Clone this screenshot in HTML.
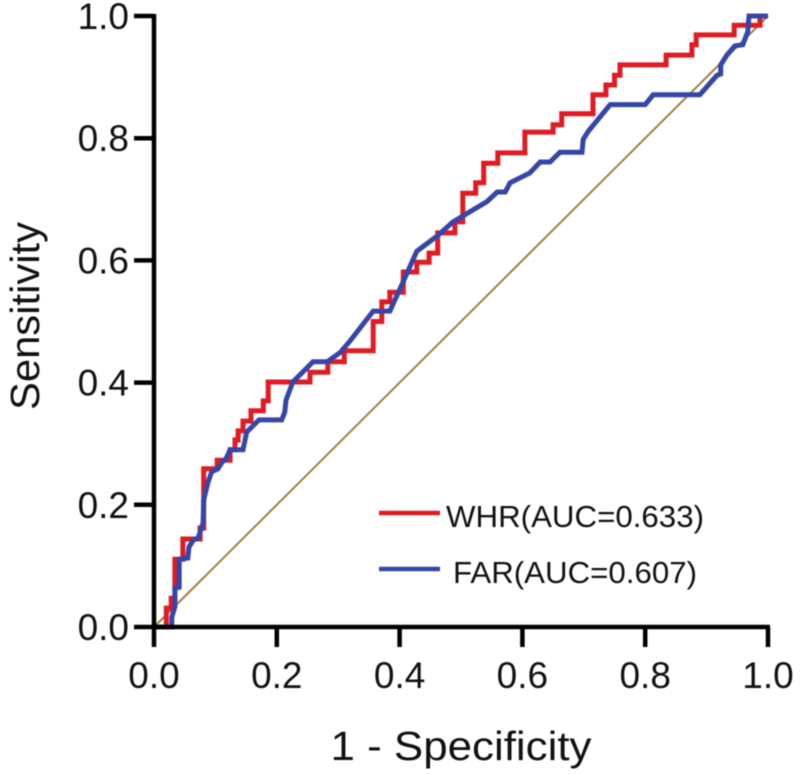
<!DOCTYPE html>
<html>
<head>
<meta charset="utf-8">
<title>ROC curves</title>
<style>
html,body{margin:0;padding:0;background:#fff;width:800px;height:774px;overflow:hidden}
svg{display:block;filter:blur(.45px)}
text{font-family:"Liberation Sans",Arial,sans-serif;fill:#111}
</style>
</head>
<body>
<svg id="chart" xmlns="http://www.w3.org/2000/svg" width="800" height="774" viewBox="0 0 800 774">
  <g id="curves"></g>
  <g id="axes"></g>
  <text x="461" y="760" font-size="41" text-anchor="middle" textLength="261" lengthAdjust="spacingAndGlyphs">1 - Specificity</text>
  <text transform="translate(39,316) rotate(-90)" font-size="41" text-anchor="middle" textLength="188" lengthAdjust="spacingAndGlyphs">Sensitivity</text>
  <g>
    <line x1="379" y1="513" x2="440" y2="513" stroke="#e01b24" stroke-width="4.5"/>
    <text x="446" y="527" font-size="31" textLength="258" lengthAdjust="spacingAndGlyphs">WHR(AUC=0.633)</text>
    <line x1="379" y1="569" x2="440" y2="569" stroke="#3546a8" stroke-width="4.5"/>
    <text x="453" y="583" font-size="31" textLength="244" lengthAdjust="spacingAndGlyphs">FAR(AUC=0.607)</text>
  </g>
</svg>
<script>
const tickValues = [0, 0.2, 0.4, 0.6, 0.8, 1.0];
const tickLabels = ["0.0", "0.2", "0.4", "0.6", "0.8", "1.0"];
const diagonalX = [0, 1];
const diagonalY = [0, 1];
const whrX = [0, .02, .02, .028, .028, .034, .034, .047, .047, .075, .075, .081, .081, .103, .103, .124, .124, .132, .132, .137, .137, .145, .145, .158, .158, .178, .178, .186, .186, .254, .254, .283, .283, .31, .31, .357, .357, .371, .371, .384, .384, .406, .406, .428, .428, .448, .448, .462, .462, .49, .49, .503, .503, .524, .524, .537, .537, .56, .56, .604, .604, .65, .65, .664, .664, .715, .715, .736, .736, .75, .75, .759, .759, .834, .834, .876, .876, .883, .883, .945, .945, .987, .987, 1];
const whrY = [0, 0, .031, .031, .047, .047, .111, .111, .144, .144, .162, .162, .259, .259, .273, .273, .29, .29, .306, .306, .321, .321, .337, .337, .354, .354, .37, .37, .401, .401, .417, .417, .434, .434, .452, .452, .5, .5, .532, .532, .548, .548, .581, .581, .597, .597, .612, .612, .645, .645, .663, .663, .71, .71, .727, .727, .759, .759, .776, .776, .81, .81, .822, .822, .84, .84, .871, .871, .887, .887, .903, .903, .92, .92, .936, .936, .953, .953, .969, .969, .985, .985, 1, 1];
const farX = [0, .029, .029, .034, .034, .041, .041, .055, .057, .064, .072, .08, .081, .088, .094, .104, .111, .117, .124, .145, .151, .171, .208, .213, .215, .226, .259, .282, .303, .319, .357, .384, .404, .428, .461, .487, .542, .559, .572, .58, .612, .629, .645, .661, .697, .699, .707, .743, .8, .813, .889, .917, .923, .923, .933, .946, .959, .967, .969, 1];
const farY = [0, 0, .016, .033, .064, .065, .111, .113, .131, .142, .146, .17, .208, .237, .254, .259, .27, .275, .29, .29, .319, .339, .339, .352, .371, .401, .434, .434, .449, .468, .517, .517, .561, .615, .64, .663, .696, .712, .712, .727, .743, .761, .761, .777, .777, .798, .811, .855, .855, .871, .871, .903, .905, .92, .936, .951, .953, .974, 1, 1];

const SVG_NS = "http://www.w3.org/2000/svg";
const xScale = v => 154 + v * 614;
const yScale = v => 627 - v * 611;

function makeLine(xs, ys, color, width) {
  const el = document.createElementNS(SVG_NS, "polyline");
  el.setAttribute("points", xs.map((x, i) => xScale(x).toFixed(1) + "," + yScale(ys[i]).toFixed(1)).join(" "));
  el.setAttribute("fill", "none");
  el.setAttribute("stroke", color);
  el.setAttribute("stroke-width", width);
  el.setAttribute("stroke-linejoin", "miter");
  el.setAttribute("stroke-linecap", "butt");
  return el;
}
function makeRule(x1, y1, x2, y2) {
  const el = document.createElementNS(SVG_NS, "line");
  el.setAttribute("x1", x1);
  el.setAttribute("y1", y1);
  el.setAttribute("x2", x2);
  el.setAttribute("y2", y2);
  el.setAttribute("stroke", "#000");
  el.setAttribute("stroke-width", 4.5);
  return el;
}
function makeText(x, y, str, anchor) {
  const el = document.createElementNS(SVG_NS, "text");
  el.setAttribute("x", x);
  el.setAttribute("y", y);
  el.setAttribute("font-size", 37);
  el.setAttribute("text-anchor", anchor);
  el.textContent = str;
  return el;
}

const curves = document.getElementById("curves");
const axes = document.getElementById("axes");

const diagonal = makeLine(diagonalX, diagonalY, "#a08040", 2);


curves.appendChild(diagonal);

const whrLine = makeLine(whrX, whrY, "#e01b24", 5);


curves.appendChild(whrLine);

const farLine = makeLine(farX, farY, "#3546a8", 5);


curves.appendChild(farLine);

const xAxisLine = makeRule(152, 627, 770, 627);


axes.appendChild(xAxisLine);

const yAxisLine = makeRule(154, 14, 154, 629);


axes.appendChild(yAxisLine);

tickValues.forEach((v, i) => {
  const xTick = makeRule(xScale(v), 627, xScale(v), 647);
  
  
  axes.appendChild(xTick);

  const yTick = makeRule(134, yScale(v), 154, yScale(v));
  
  
  axes.appendChild(yTick);

  const xLabel = makeText(xScale(v), 688, tickLabels[i], "middle");
  
  
  axes.appendChild(xLabel);

  const yLabel = makeText(129, yScale(v) + 13, tickLabels[i], "end");
  
  
  axes.appendChild(yLabel);
});
</script>
</body>
</html>
